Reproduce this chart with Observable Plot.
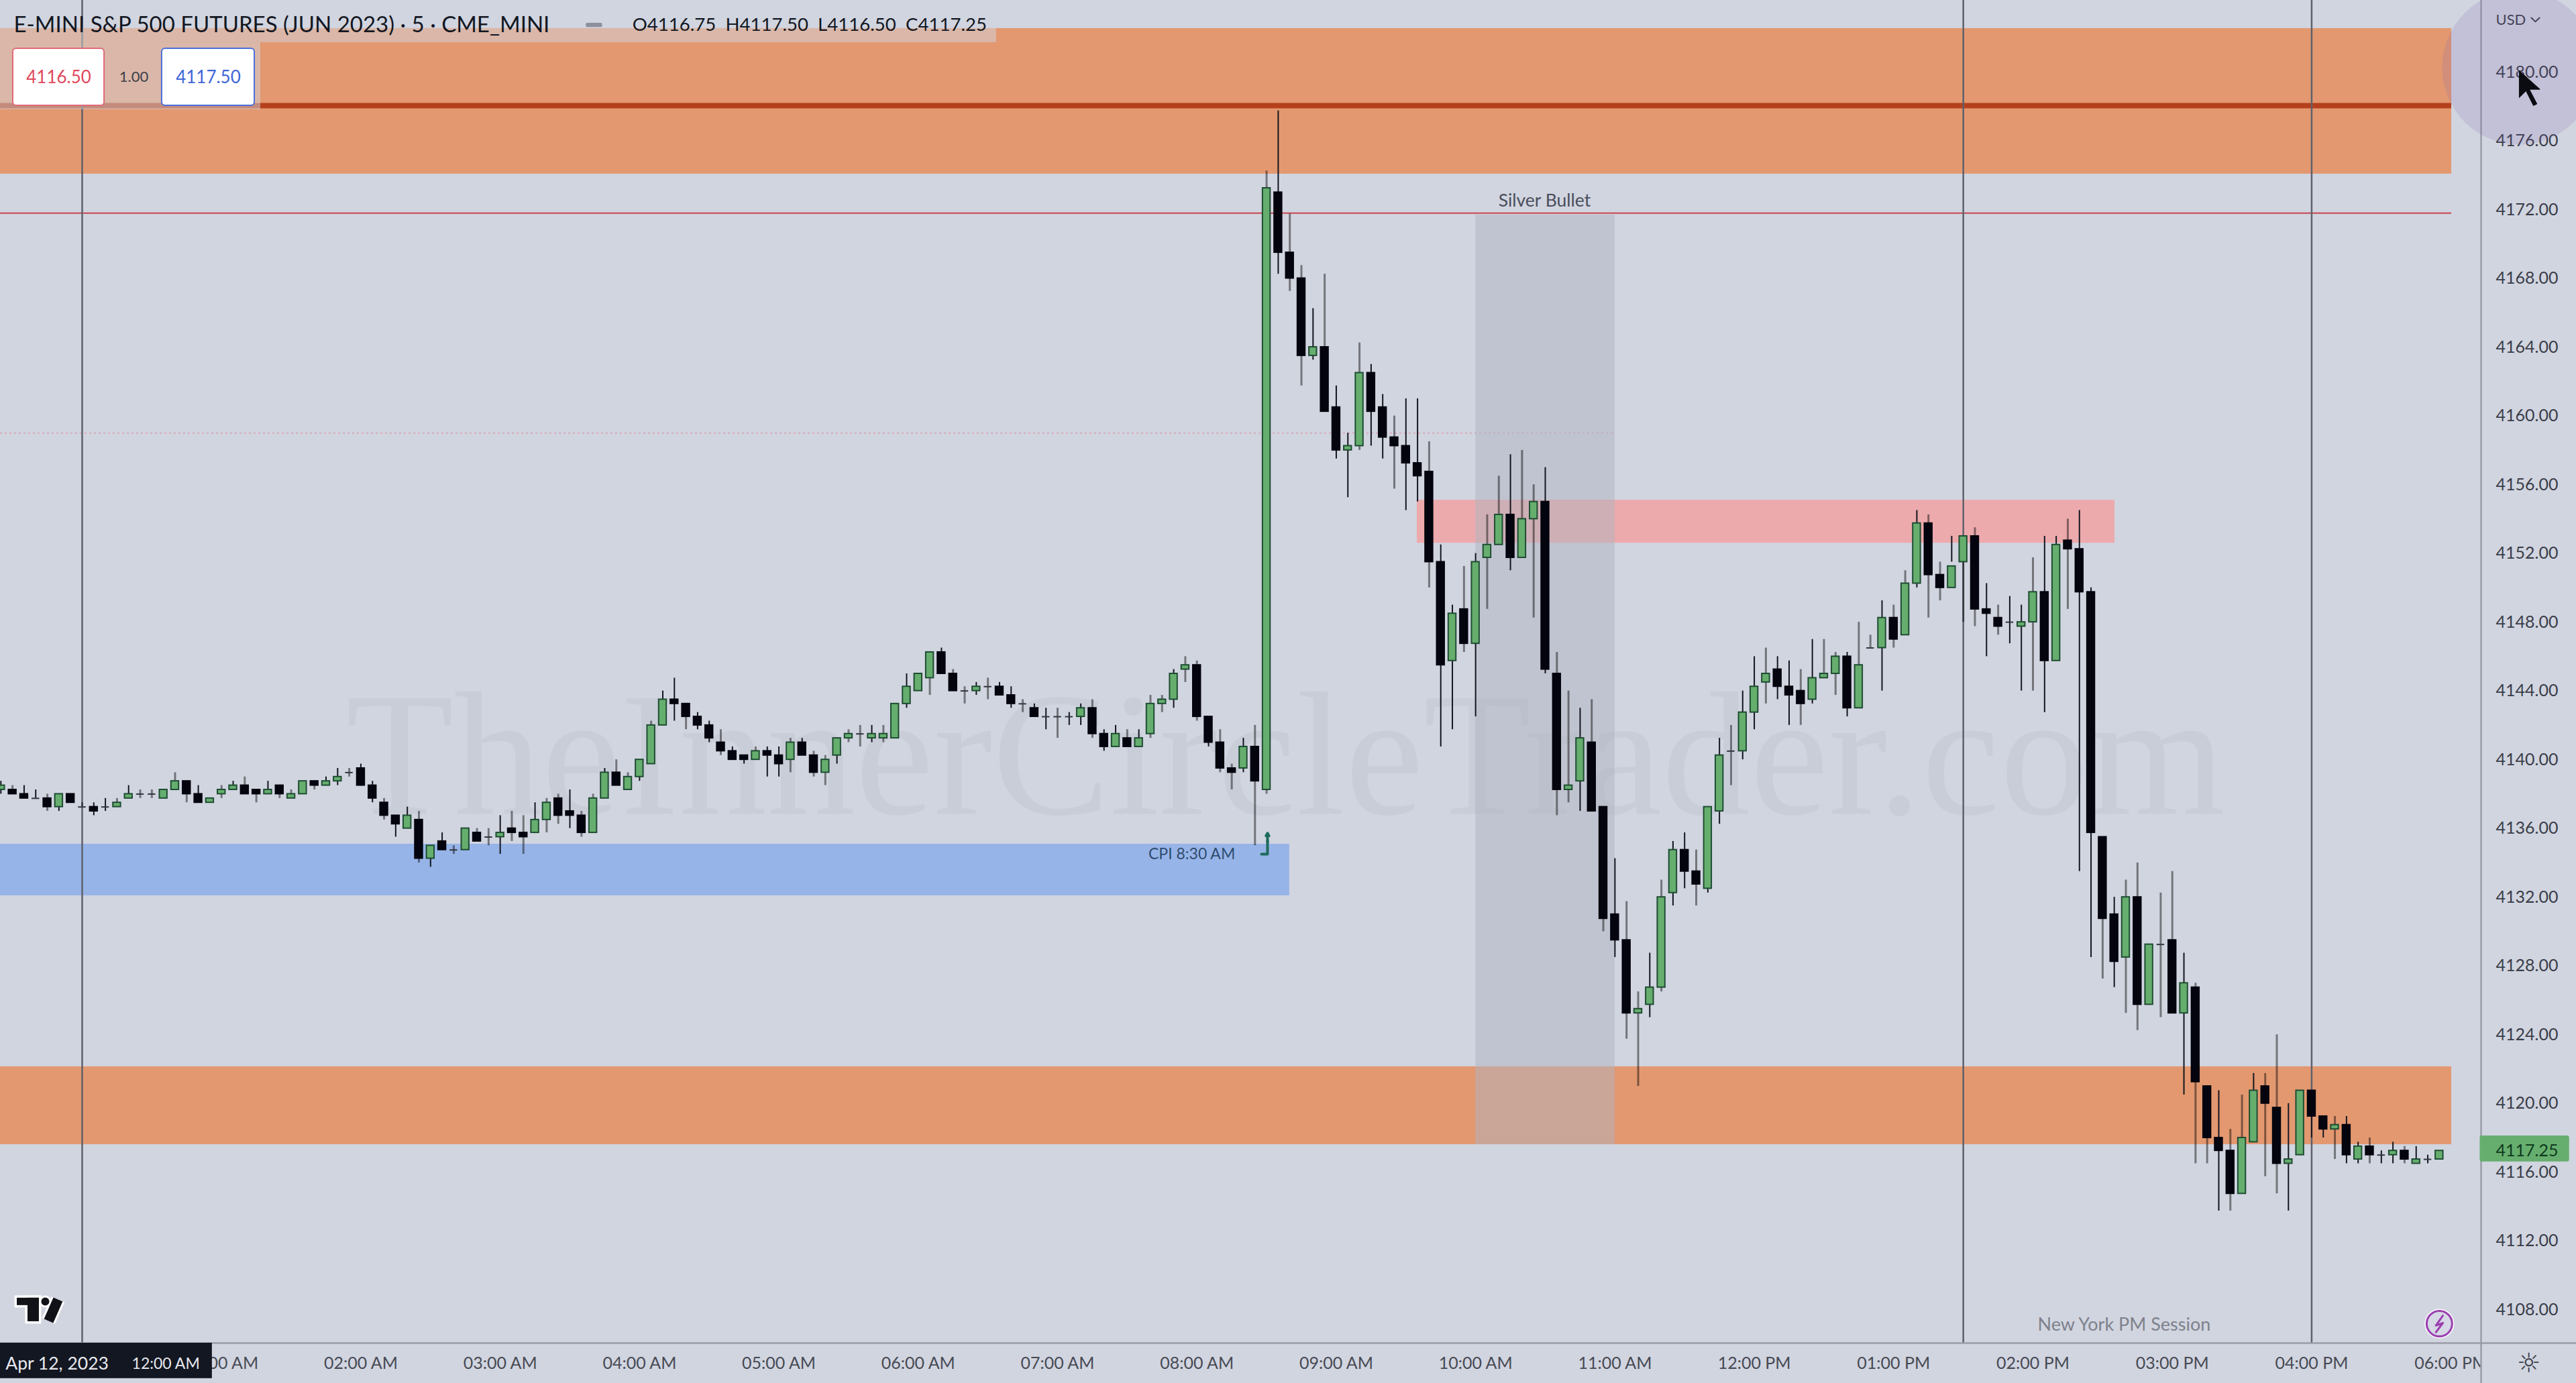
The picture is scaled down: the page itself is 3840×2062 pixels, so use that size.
<!DOCTYPE html>
<html>
<head>
<meta charset="utf-8">
<script src="https://cdn.jsdelivr.net/npm/d3@7"></script>
<script src="https://cdn.jsdelivr.net/npm/@observablehq/plot@0.6"></script>
<style>html,body{margin:0;padding:0;background:#d1d5e0}svg{display:block}</style>
</head>
<body>
<div id="chart"></div>
<script>
const firstBar = -7;
const opens = [4138.25,4138.25,4138,4137.75,4137.75,4137.25,4138,4137.25,4137.25,4137.25,4137.25,4137.75,4138,4138,4137.75,4138.25,4138.75,4138,4137.5,4138,4138.25,4138.5,4138.25,4138,4138.5,4137.75,4138,4138.75,4138.5,4138.75,4139.25,4139.5,4138.5,4137.5,4136.75,4136,4136.5,4134.25,4135.25,4134.75,4134.75,4135.75,4135.5,4135.5,4136,4135.75,4135.75,4136.5,4137.75,4137,4136.75,4135.75,4137.75,4139.25,4138.25,4139,4139.75,4142,
4143.5,4143.25,4142.5,4142,4141,4140.5,4140.25,4140,4140.5,4140.25,4140,4141,4140.25,4139.25,4140.25,4141.25,4141.5,4141.25,4141.25,4141.25,4143.25,4144,4144.75,4146.25,4145,4144,4144,4144.25,4144.25,4143.75,4143.25,4143,4142.5,4142.5,4142.5,4142.5,4143,4141.5,4140.75,4141.25,4140.75,4141.5,4143.25,4143.5,4145.25,4145.5,4142.5,4141,4139.5,4139.5,4140.75,4138.25,
4173,4169.5,4168,4163.5,4164,4160.5,4158,4158.25,4162.5,4160.5,4158.75,4158.25,4157.25,4156.75,4151.5,4145.75,4148.75,4146.75,4151.75,4152.5,4154.25,4151.75,4154,4155,4145,4138.25,4138.75,4141,4137.25,4131,4129.5,4125.25,4125.75,4126.75,4132.25,4134.75,4133.5,4132.5,4137,4140.5,4140.5,4142.75,4144.5,4145.25,4144.25,4144,4143.5,4144.75,4145,4146,4143,4146.5,4146.5,4148.25,4147.25,4150.25,4153.75,4150.75,4150,4151.5,4153,4148.75,4148.25,4148,4147.75,4148,4149.75,4145.75,4152.75,4152.25,4149.75,
4135.5,4131,4128.5,4132,4125.75,4129.25,4129.5,4125.25,4126.75,4121,4118,4117.25,4114.75,4117.75,4121,4119.75,4116.5,4117,4120.75,4119.25,4118.5,4118.75,4116.75,4117.5,4117,4117,4117.25,4116.5,4116.75,4116.75];
const closes = [4138.5,4138,4137.75,4137.75,4137.25,4138,4137.5,4137.25,4137,4137.25,4137.5,4138,4138,4138,4138.25,4138.75,4138,4137.5,4137.75,4138.25,4138.5,4138,4138,4138.25,4138,4138,4138.75,4138.5,4138.75,4139,4139.25,4138.5,4137.75,4136.75,4136.25,4136.75,4134.25,4135,4134.75,4134.75,4136,4135.25,4135.5,4135.75,4135.75,4135.5,4136.5,4137.5,4136.75,4136.75,4135.75,4137.75,4139.25,4138.5,4139,4140,4142,4143.5,
4143.25,4142.5,4142,4141.25,4140.5,4140,4140,4140.5,4140.25,4139.75,4141,4140.25,4139.25,4140,4141.25,4141.5,4141.5,4141.5,4141.5,4143.25,4144.25,4145,4146.25,4145,4144,4144,4144.25,4144.25,4143.75,4143.25,4143.25,4142.5,4142.5,4142.5,4142.5,4143,4141.5,4140.75,4141.5,4140.75,4141.25,4143.25,4143.5,4145,4145.5,4142.5,4141,4139.5,4139.25,4140.75,4138.75,4173.25,
4169.5,4168,4163.5,4164,4160.25,4158,4158.25,4162.5,4160.25,4158.75,4158.25,4157.25,4156.5,4151.5,4145.5,4148.5,4146.75,4151.5,4152.5,4154.25,4151.75,4154,4155,4145.25,4138.25,4138.5,4141.25,4137,4130.75,4129.5,4125.25,4125.5,4126.75,4132,4134.75,4133.5,4132.75,4137.25,4140.25,4140.5,4142.75,4144.25,4145,4144.25,4143.75,4143.25,4144.75,4145,4146,4143,4145.5,4146.5,4148.25,4147,4150.25,4153.75,4150.75,4150,4151.25,4153,4148.75,4148.5,4147.75,4148,4148,4149.75,4145.75,4152.5,4152.25,4149.75,4135.75,
4130.75,4128.25,4132,4125.75,4129.25,4129.25,4125.25,4127,4121.25,4118,4117.25,4114.75,4118,4120.75,4120,4116.5,4116.75,4120.75,4119.25,4118.5,4118.75,4117,4117.5,4117,4117,4117.25,4116.75,4116.75,4116.75,4117.25];
const highs = [4138.75,4138.5,4138.5,4138.25,4138,4138,4138,4137.5,4137.5,4137.75,4137.75,4138.5,4138.25,4138.25,4138.25,4139.25,4138.75,4138.5,4137.75,4138.5,4138.75,4139,4138.25,4138.75,4138.5,4138.25,4138.75,4138.75,4139,4139.5,4139.5,4139.75,4138.75,4137.75,4136.75,4137.25,4137,4135,4135.75,4135,4136,4136,4136,4136.75,4137,4136.75,4137.5,4137.75,4138,4138.25,4137,4138,4139.5,4140,4139.25,4140,4142.25,4144,
4144.75,4143.25,4142.75,4142.25,4141.75,4140.75,4140.25,4140.75,4140.75,4140.75,4141.25,4141.25,4140.5,4140.25,4141.25,4141.75,4142,4142,4142,4143.25,4145,4145,4146.25,4146.5,4145.25,4144.25,4144.5,4144.75,4144.5,4144.25,4143.5,4143.25,4143,4143,4142.75,4143.25,4143.5,4141.75,4142,4141.75,4141.75,4143.75,4143.75,4145.25,4146,4145.75,4142.5,4141.75,4139.75,4141.25,4142,4174.25,
4177.75,4171.75,4168.75,4166.25,4168.25,4161.75,4159,4164.25,4163,4161.25,4160,4161,4161,4158.5,4152.5,4149,4151.25,4152,4154.25,4156.5,4157.75,4158,4156,4157,4146.25,4144,4143,4143.5,4137.25,4134.25,4131.75,4126.5,4128.75,4133,4135.25,4135.75,4134.75,4137.25,4141.25,4142,4144,4146,4146.5,4146,4145.75,4145.25,4147,4147,4146.25,4146.25,4148,4147.25,4149.25,4149,4151,4154.5,4154.25,4151.5,4153,4153,4153.5,4150.25,4149,4149.5,4149,4151.75,4153,4153,4154,4154.5,4150,
4135.5,4132,4133,4134,4129.25,4132.25,4133.5,4128.75,4127,4121,4120.75,4118.5,4120.5,4121.75,4121.75,4124,4120,4120.75,4120.75,4119.25,4119.25,4119.25,4117.75,4118,4117.25,4117.75,4117.5,4117.5,4117,4117.5];
const lows = [4138,4138,4137.75,4137.75,4137,4137,4137.5,4137.25,4136.75,4137,4137.25,4137.75,4137.75,4137.75,4137.75,4138.25,4137.5,4137.5,4137.5,4137.75,4138.25,4138,4137.5,4138,4137.75,4137.75,4138,4138.25,4138.5,4138.5,4139,4138.5,4137.5,4136.5,4135.5,4136,4134,4133.75,4134.75,4134.5,4134.75,4135.25,4135,4134.5,4135.25,4134.5,4135.75,4135.75,4136.25,4136,4135.5,4135.75,4137.75,4138.5,4138.25,4138.75,4139.75,4142,
4142.25,4141.75,4141.75,4141,4140.25,4140,4139.75,4140,4139,4139,4139.25,4140.25,4139,4138.5,4139.75,4141,4140.75,4141,4141,4141.25,4143,4144,4143.75,4145,4144,4143.25,4143.75,4143.5,4143.75,4143,4142.75,4142.5,4141.75,4141.25,4142,4142,4141.25,4140.5,4140.75,4140.75,4140.75,4141.25,4142.75,4143,4144.5,4142.25,4140.75,4139.25,4138.25,4139.25,4135,4138,
4168.25,4167.25,4161.75,4163.25,4160.25,4157.5,4155.25,4158,4158.25,4157.5,4155.75,4154.5,4155,4150,4140.75,4141.75,4146.25,4142.5,4148.75,4152.5,4151,4151.75,4148.25,4145,4136.75,4137.5,4137,4137,4130,4128.5,4123.75,4121,4125,4126.5,4131.5,4132.5,4131.5,4132.25,4136.25,4138.5,4140,4141.75,4143.25,4143.5,4142,4142,4143.25,4144.75,4143.75,4142.5,4143.25,4146.5,4144,4146.5,4150.25,4150,4148.25,4149.25,4151.5,4148,4147.75,4146,4147.25,4146.75,4144,4144,4142.75,4151.25,4148.75,4133.5,
4128.5,4127.25,4126.75,4125.25,4124.25,4128,4125,4125.25,4120.5,4116.5,4116.5,4113.75,4113.75,4117.5,4117.75,4115.75,4114.75,4113.75,4119.25,4118,4118,4116.75,4116.5,4116.5,4116.5,4116.5,4116.5,4116.5,4116.5,4116.5];

const hourTicks = [12,24,36,48,60,72,84,96,108,120,132,144,156,168,180,192,204];
const hourLabels = ["01:00 AM","02:00 AM","03:00 AM","04:00 AM","05:00 AM","06:00 AM","07:00 AM","08:00 AM","09:00 AM","10:00 AM","11:00 AM","12:00 PM","01:00 PM","02:00 PM","03:00 PM","04:00 PM","06:00 PM"];
const priceTicks = d3.range(4108, 4181, 4);
const sessionLines = [0, 162, 192];

const xEnd = 206.59, xStart = -7.048, yTop = 4184.175, yBottom = 4106.06;

const bars = opens.map((o, k) => ({i: firstBar + k, o, c: closes[k], h: highs[k], l: lows[k]}));
const upBars = bars.filter(b => b.c > b.o);
const downBars = bars.filter(b => b.c < b.o);
const flatBars = bars.filter(b => b.c === b.o);
// wicks alternate between crisp and soft, from the video's pixel grid
const crisp = b => { const f = (8.655 * (b.i + 7.05)) % 1; return f > 0.3 && f < 0.78; };

const sans = "Lato, 'Open Sans', sans-serif";
const half = 0.33;

const zones = [
  {x1: xStart, x2: 204.05, y1: 4174.07, y2: 4182.54, fill: "#e39870"},
  {x1: xStart, x2: 204.05, y1: 4117.61, y2: 4122.14, fill: "#e39870"},
  {x1: xStart, x2: 103.98, y1: 4132.09, y2: 4135.09, fill: "#97b4e8"},
  {x1: 114.96, x2: 175.05, y1: 4152.6, y2: 4155.1, fill: "#ecaaad"}
];

const plot = Plot.plot({
  width: 3840, height: 2062,
  marginTop: 0, marginLeft: 0, marginRight: 142, marginBottom: 60,
  style: {background: "#d1d5e0", fontFamily: sans},
  x: {domain: [xStart, xEnd]},
  y: {domain: [yBottom, yTop]},
  marks: [
    Plot.text(["TheInnerCircleTrader.com"], {x: 103.64, y: 4136.85, fontFamily: "'Liberation Serif', serif", fontSize: 263, fill: "#c9cdd8", lineAnchor: "bottom"}),
    Plot.rect(zones, {x1: "x1", x2: "x2", y1: "y1", y2: "y2", fill: "fill"}),
    Plot.ruleY([4178.05], {x1: xStart, x2: 204.05, stroke: "#b5401b", strokeWidth: 8}),
    Plot.ruleY([4171.8], {x1: xStart, x2: 204.05, stroke: "#c8434e", strokeWidth: 2}),
    Plot.ruleY([4159], {x1: xStart, x2: 132, stroke: "#d9a9b8", strokeWidth: 2, strokeDasharray: "3,4"}),
    Plot.rect([0], {x1: 120, x2: 132, y1: 4117.61, y2: 4171.69, fill: "rgb(175,179,191)", fillOpacity: 0.5}),
    Plot.ruleX(sessionLines, {y1: yBottom, y2: yTop, stroke: "#5e616b", strokeWidth: 2.5}),

    Plot.ruleX(bars.filter(b => !crisp(b)), {x: "i", y1: "l", y2: "h", stroke: "#000", strokeOpacity: 0.45, strokeWidth: 3}),
    Plot.ruleX(bars.filter(crisp), {x: "i", y1: "l", y2: "h", stroke: "#14161e", strokeWidth: 2}),
    Plot.rect(downBars, {x1: b => b.i - half, x2: b => b.i + half, y1: "c", y2: "o", fill: "#04040e", stroke: "#04040e", strokeWidth: 2}),
    Plot.rect(upBars, {x1: b => b.i - half, x2: b => b.i + half, y1: "o", y2: "c", fill: "#66ae6e", stroke: "#1f4d33", strokeWidth: 2}),
    Plot.ruleY(flatBars, {x1: b => b.i - half, x2: b => b.i + half, y: "o", stroke: "#33363f", strokeWidth: 2}),

    Plot.text(["Silver Bullet"], {x: 125.94, y: 4172.5, fontSize: 26.5, fill: "#4a4e5c"}),
    Plot.text(["CPI 8:30 AM"], {x: 95.56, y: 4134.5, fontSize: 23, fill: "#2f4d70"}),
    Plot.line([[101.56, 4134.5], [102.08, 4134.5], [102.08, 4135.3]], {stroke: "#1d6b5c", strokeWidth: 4}),
    Plot.arrow([0], {x1: 102.08, x2: 102.08, y1: 4135.2, y2: 4135.72, stroke: "#1d6b5c", strokeWidth: 4, headLength: 20, bend: 0}),
    Plot.text(["New York PM Session"], {x: 175.85, y: 4107.1, fontSize: 27, fill: "#7e818c"}),

    // TradingView logo
    Plot.rect([[-5.6, -3.7, 4108.25, 4108.68], [-4.68, -3.7, 4107.31, 4108.68]], {x1: "0", x2: "1", y1: "2", y2: "3", fill: "#fff", stroke: "#fff", strokeWidth: 7}),
    Plot.dot([0], {x: -3.18, y: 4108.48, r: 9, fill: "#fff"}),
    Plot.line([[-2.08, 4108.6], [-2.89, 4107.35]], {stroke: "#fff", strokeWidth: 21, strokeLinecap: "butt"}),
    Plot.rect([[-5.6, -3.7, 4108.25, 4108.68], [-4.68, -3.7, 4107.31, 4108.68]], {x1: "0", x2: "1", y1: "2", y2: "3", fill: "#101218"}),
    Plot.dot([0], {x: -3.18, y: 4108.48, r: 6, fill: "#101218"}),
    Plot.line([[-2.08, 4108.6], [-2.89, 4107.35]], {stroke: "#101218", strokeWidth: 15, strokeLinecap: "butt"}),

    // lightning button
    Plot.dot([0], {x: 203, y: 4107.19, r: 22, fill: "#fff"}),
    Plot.dot([0], {x: 203, y: 4107.19, r: 19, fill: "#d6d8e6", stroke: "#9c3fb0", strokeWidth: 3}),
    Plot.line([[203.3, 4107.66], [202.7, 4107.08], [203.3, 4107.23], [202.7, 4106.69]], {stroke: "#9c3fb0", strokeWidth: 3}),

    // header strip and buttons
    Plot.rect([[xStart, 78.74, 4181.72, 4182.54], [xStart, 15.37, 4177.82, 4181.72]], {x1: "0", x2: "1", y1: "2", y2: "3", fill: "#d1d5e0", fillOpacity: 0.5}),
    Plot.text(["E-MINI S&P 500 FUTURES (JUN 2023) · 5 · CME_MINI"], {x: -5.89, y: 4182.73, textAnchor: "start", fontSize: 33, fill: "#131722"}),
    Plot.rect([0], {x1: 43.4, x2: 44.8, y1: 4182.6, y2: 4182.85, fill: "#8d909c", rx: 2}),
    Plot.text(["O4116.75  H4117.50  L4116.50  C4117.25"], {x: 47.38, y: 4182.73, textAnchor: "start", fontSize: 27.6, fill: "#131722"}),
    Plot.rect([0], {x1: -5.95, x2: 1.91, y1: 4178.05, y2: 4181.37, fill: "#fff", stroke: "#e06a78", strokeWidth: 2, rx: 5}),
    Plot.rect([0], {x1: 6.87, x2: 14.85, y1: 4178.05, y2: 4181.37, fill: "#fff", stroke: "#4a6fd8", strokeWidth: 2, rx: 5}),
    Plot.text(["4116.50"], {x: -2.02, y: 4179.69, fontSize: 26, fill: "#e0495c"}),
    Plot.text(["1.00"], {x: 4.45, y: 4179.69, fontSize: 22, fill: "#3d3f49"}),
    Plot.text(["4117.50"], {x: 10.86, y: 4179.69, fontSize: 26, fill: "#3f66d8"}),

    // axes
    Plot.axisX(hourTicks, {anchor: "bottom", tickSize: 0, tickPadding: 21, fontSize: 25, fill: "#474a54", tickFormat: d => hourLabels[hourTicks.indexOf(d)]}),
    Plot.rect([0], {x1: xEnd, x2: 225, y1: yBottom - 3, y2: yTop + 1, fill: "#d1d5e0"}),
    Plot.ruleY([yBottom], {x1: xStart, x2: 225, stroke: "#9a9da8", strokeWidth: 2.5}),
    Plot.ruleX([xEnd], {y1: yBottom - 3, y2: yTop + 1, stroke: "#9a9da8", strokeWidth: 2.5}),
    Plot.axisY(priceTicks, {anchor: "right", tickSize: 0, tickPadding: 22, fontSize: 25, fill: "#3a3d48", tickFormat: d => d.toFixed(2)}),

    Plot.rect([0], {x1: xStart, x2: 11.2, y1: 4104, y2: yBottom, fill: "#131722"}),
    Plot.text(["Apr 12, 2023"], {x: -6.6, y: 4104.85, textAnchor: "start", fontSize: 26.5, fill: "#e8e9ee"}),
    Plot.text(["12:00 AM"], {x: 4.28, y: 4104.85, textAnchor: "start", fontSize: 23, fill: "#e8e9ee"}),

    Plot.rect([0], {x1: 206.5, x2: 214.2, y1: 4116.6, y2: 4118.12, fill: "#66ae6e", rx: 3}),
    Plot.text(["4117.25"], {x: 207.86, y: 4117.25, textAnchor: "start", fontSize: 25, fill: "#0f3a1e"}),
    Plot.text(["USD"], {x: 207.86, y: 4183.04, textAnchor: "start", fontSize: 22, fill: "#3a3d48"}),
    Plot.line([[210.92, 4183.16], [211.27, 4182.93], [211.62, 4183.16]], {stroke: "#3a3d48", strokeWidth: 2}),
    Plot.text(["☼"], {x: 210.7, y: 4104.85, fontFamily: "'DejaVu Sans'", fontSize: 40, fill: "#3a3d48"}),

    // cursor halo and arrow
    Plot.dot([0], {x: 209.88, y: 4180.27, r: 115, fill: "#7a5fae", fillOpacity: 0.17}),
    Plot.line([[209.88, 4180.08], [209.88, 4178.52], [210.46, 4178.91], [211.1, 4178.05], [211.4, 4178.15], [210.75, 4179], [211.66, 4179], [209.88, 4180.08]], {fill: "#0b0c12", stroke: "#0b0c12", strokeWidth: 1})
  ]
});
document.getElementById("chart").appendChild(plot);
</script>
</body>
</html>
